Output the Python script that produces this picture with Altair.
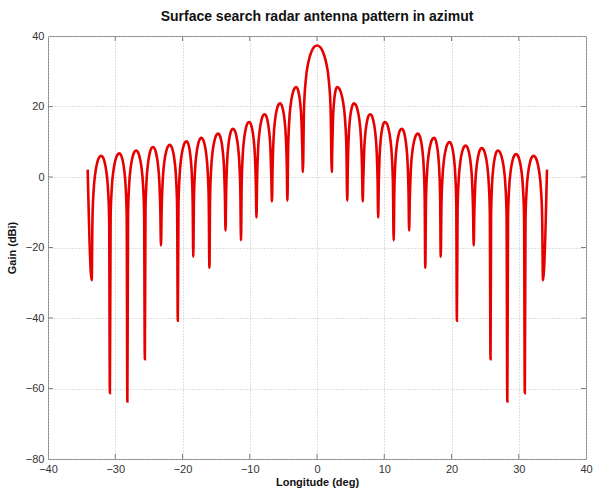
import altair as alt
import pandas as pd

# Null positions (deg) and depths (dBi)
null_deg = [-33.5, -30.8, -28.2, -25.6, -23.2, -20.7, -18.4, -16.0, -13.6, -11.3, -9.0, -6.7, -4.4, -2.1,
            2.2, 4.5, 6.8, 9.1, 11.4, 13.7, 16.1, 18.4, 20.8, 23.3, 25.8, 28.3, 30.9, 33.6]
null_db = [-29.3, -61.3, -63.7, -51.7, -19.4, -40.8, -22.6, -25.7, -15.2, -18.0, -11.5, -6.9, -6.7, 1.4,
           1.4, -6.7, -6.9, -11.5, -18.0, -15.2, -25.7, -22.6, -40.8, -19.4, -51.7, -63.7, -61.3, -29.3]

# Lobe peaks (deg, dBi) between consecutive nulls
peak_deg = [-32.1, -29.4, -26.9, -24.4, -21.9, -19.4, -17.2, -14.7, -12.5, -10.1, -7.8, -5.5, -3.1, 0.0,
            3.0, 5.5, 7.9, 10.1, 12.6, 15.0, 17.4, 19.7, 22.1, 24.5, 26.9, 29.6, 32.2]
peak_db = [6.0, 6.7, 7.5, 8.5, 9.1, 10.1, 11.1, 12.3, 13.7, 15.6, 17.8, 20.9, 25.5, 37.3,
           25.5, 20.9, 17.8, 15.6, 13.7, 12.3, 11.1, 9.9, 8.9, 8.2, 7.5, 6.5, 6.0]

# Curve end points
end_deg = [-34.1, 34.2]
end_db = [2.1, 2.1]

# Lobe flank shape: fraction of the way from null to peak, dB below the peak
flank_frac = [0.08, 0.2, 0.4, 0.6, 0.8]
flank_drop = [-18.0, -10.0, -4.5, -1.8, -0.4]

# Axis tick values
x_ticks = list(range(-40, 41, 10))
y_ticks = list(range(-80, 41, 20))

rows = [(end_deg[0], end_db[0])]
for i in range(len(peak_deg)):
    nx, ny = null_deg[i], null_db[i]
    px, py = peak_deg[i], peak_db[i]
    rx, ry = null_deg[i + 1], null_db[i + 1]
    rows.append((nx, ny))
    for f, d in zip(flank_frac, flank_drop):
        rows.append((nx + f * (px - nx), max(py + d, ny)))
    rows.append((px, py))
    for f, d in zip(reversed(flank_frac), reversed(flank_drop)):
        rows.append((rx + f * (px - rx), max(py + d, ry)))
rows.append((null_deg[-1], null_db[-1]))
rows.append((end_deg[1], end_db[1]))

df = pd.DataFrame(rows, columns=["deg", "gain"])
df["i"] = range(len(df))

W, H = 538, 423
FONT = "Liberation Sans"
TICK = "#808080"

xscale = alt.Scale(domain=[-40, 40], nice=False, zero=False)
yscale = alt.Scale(domain=[-80, 40], nice=False, zero=False)
xaxis = alt.Axis(values=x_ticks, title="Longitude (deg)", labelFlush=False)
yaxis = alt.Axis(values=y_ticks, title="Gain (dBi)", labelFlush=False)

line = (
    alt.Chart(df)
    .mark_line(interpolate="monotone", color="#e60000", strokeWidth=2.6, clip=True)
    .encode(
        x=alt.X("deg:Q", scale=xscale, axis=xaxis),
        y=alt.Y("gain:Q", scale=yscale, axis=yaxis),
        order="i:Q",
    )
)

xt = pd.DataFrame({"deg": x_ticks[1:-1]})
yt = pd.DataFrame({"gain": y_ticks[1:-1]})

x_bottom = alt.Chart(xt).mark_rule(color=TICK, strokeWidth=1).encode(
    x=alt.X("deg:Q", scale=xscale, axis=xaxis), y=alt.value(H), y2=alt.value(H - 5))
x_top = alt.Chart(xt).mark_rule(color=TICK, strokeWidth=1).encode(
    x=alt.X("deg:Q", scale=xscale, axis=xaxis), y=alt.value(0), y2=alt.value(5))
y_left = alt.Chart(yt).mark_rule(color=TICK, strokeWidth=1).encode(
    y=alt.Y("gain:Q", scale=yscale, axis=yaxis), x=alt.value(0), x2=alt.value(5))
y_right = alt.Chart(yt).mark_rule(color=TICK, strokeWidth=1).encode(
    y=alt.Y("gain:Q", scale=yscale, axis=yaxis), x=alt.value(W), x2=alt.value(W - 5))

chart = (
    alt.layer(line, x_bottom, x_top, y_left, y_right)
    .properties(
        width=W,
        height=H,
        autosize=alt.AutoSizeParams(type="none"),
        padding={"left": 48, "top": 36, "right": 7, "bottom": 31},
        title=alt.TitleParams("Surface search radar antenna pattern in azimut", fontSize=14,
                              fontWeight="bold", font=FONT, anchor="middle", offset=6, color="#111111"),
        background="white",
    )
    .configure_view(stroke="#808080", strokeWidth=1)
    .configure_axis(
        grid=True, gridColor="#c0c0c0", gridDash=[1, 2], gridWidth=1,
        domain=False, ticks=False,
        labelFont=FONT, labelFontSize=11, labelColor="#333333", labelPadding=4,
        titleFont=FONT, titleFontSize=11, titleFontWeight="bold", titleColor="#111111",
    )
    .configure_axisX(titlePadding=2)
    .configure_axisY(titlePadding=8)
)

chart.save("out.html", embed_options={"renderer": "svg", "actions": False})
